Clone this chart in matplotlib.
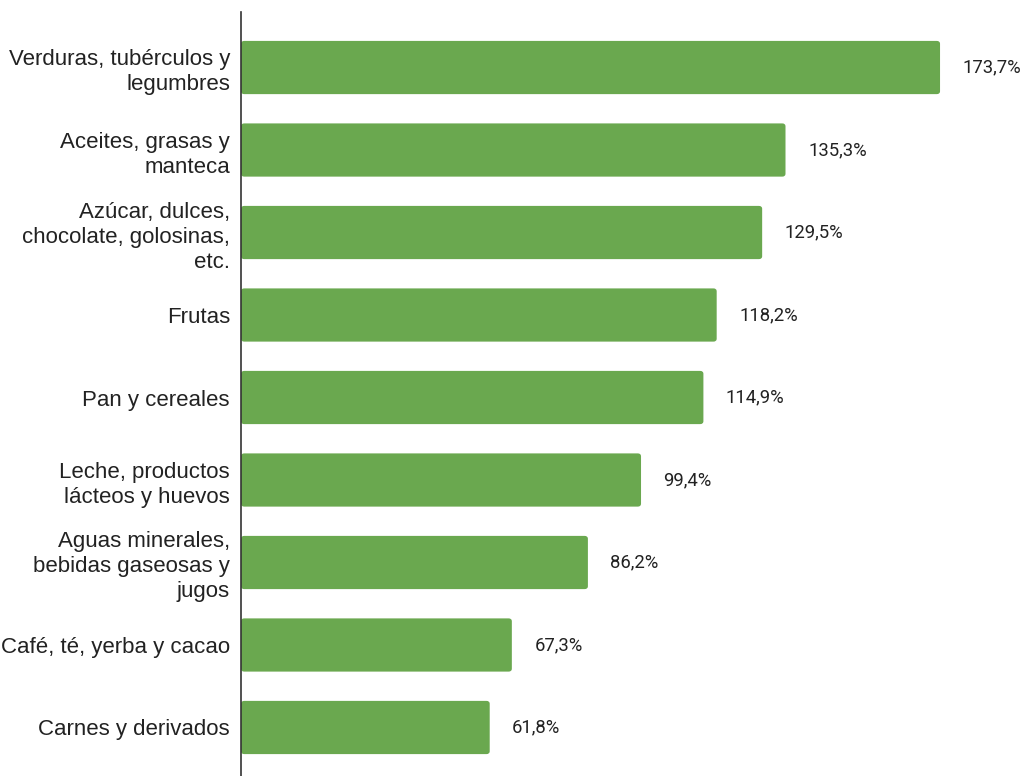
import numpy as np
import matplotlib
matplotlib.use("Agg")
from matplotlib import pyplot as plt
from matplotlib.patches import FancyBboxPatch

# datos
categorias = ["Verduras, tubérculos y\nlegumbres",
              "Aceites, grasas y\nmanteca",
              "Azúcar, dulces,\nchocolate, golosinas,\netc.",
              "Frutas",
              "Pan y cereales",
              "Leche, productos\nlácteos y huevos",
              "Aguas minerales,\nbebidas gaseosas y\njugos",
              "Café, té, yerba y cacao",
              "Carnes y derivados"]
valores = [173.7, 135.3, 129.5, 118.2, 114.9, 99.4, 86.2, 67.3, 61.8]
etiquetas = ["173,7%", "135,3%", "129,5%", "118,2%", "114,9%",
             "99,4%", "86,2%", "67,3%", "61,8%"]

verde = "#6aa84f"

fig = plt.figure(figsize=(10.33, 7.76), dpi=100)
ax = fig.add_axes([241/1033, 0, 1 - 241/1033, 1 - 12/776])

y = np.arange(len(categorias))
bars = ax.barh(y, valores, height=0.645, color=verde)

ax.set_xlim(0, 196.8)
ax.set_ylim(8.588, -0.673)

# esquinas redondeadas
for b in bars:
    x0, y0 = b.get_x(), b.get_y()
    w, h = b.get_width(), b.get_height()
    b.set_visible(False)
    p = FancyBboxPatch((x0, y0), w, h,
                       boxstyle="round,pad=0,rounding_size=0.8",
                       mutation_aspect=0.045,
                       facecolor=verde, edgecolor="none")
    ax.add_patch(p)

for yi, v, t in zip(y, valores, etiquetas):
    ax.text(v + 5.6, yi, t, va="center", ha="left",
            fontsize=13.3, family="Roboto", color="#222222")

ax.set_yticks(y)
ax.set_yticklabels(categorias, fontsize=16, family="Liberation Sans",
                   color="#222222", linespacing=1.25)
ax.tick_params(axis="y", length=0, pad=8)
ax.set_xticks([])

for s in ["top", "right", "bottom"]:
    ax.spines[s].set_visible(False)
ax.spines["left"].set_color("#333333")
ax.spines["left"].set_linewidth(1.2)

fig.savefig("out.png", dpi=100)
